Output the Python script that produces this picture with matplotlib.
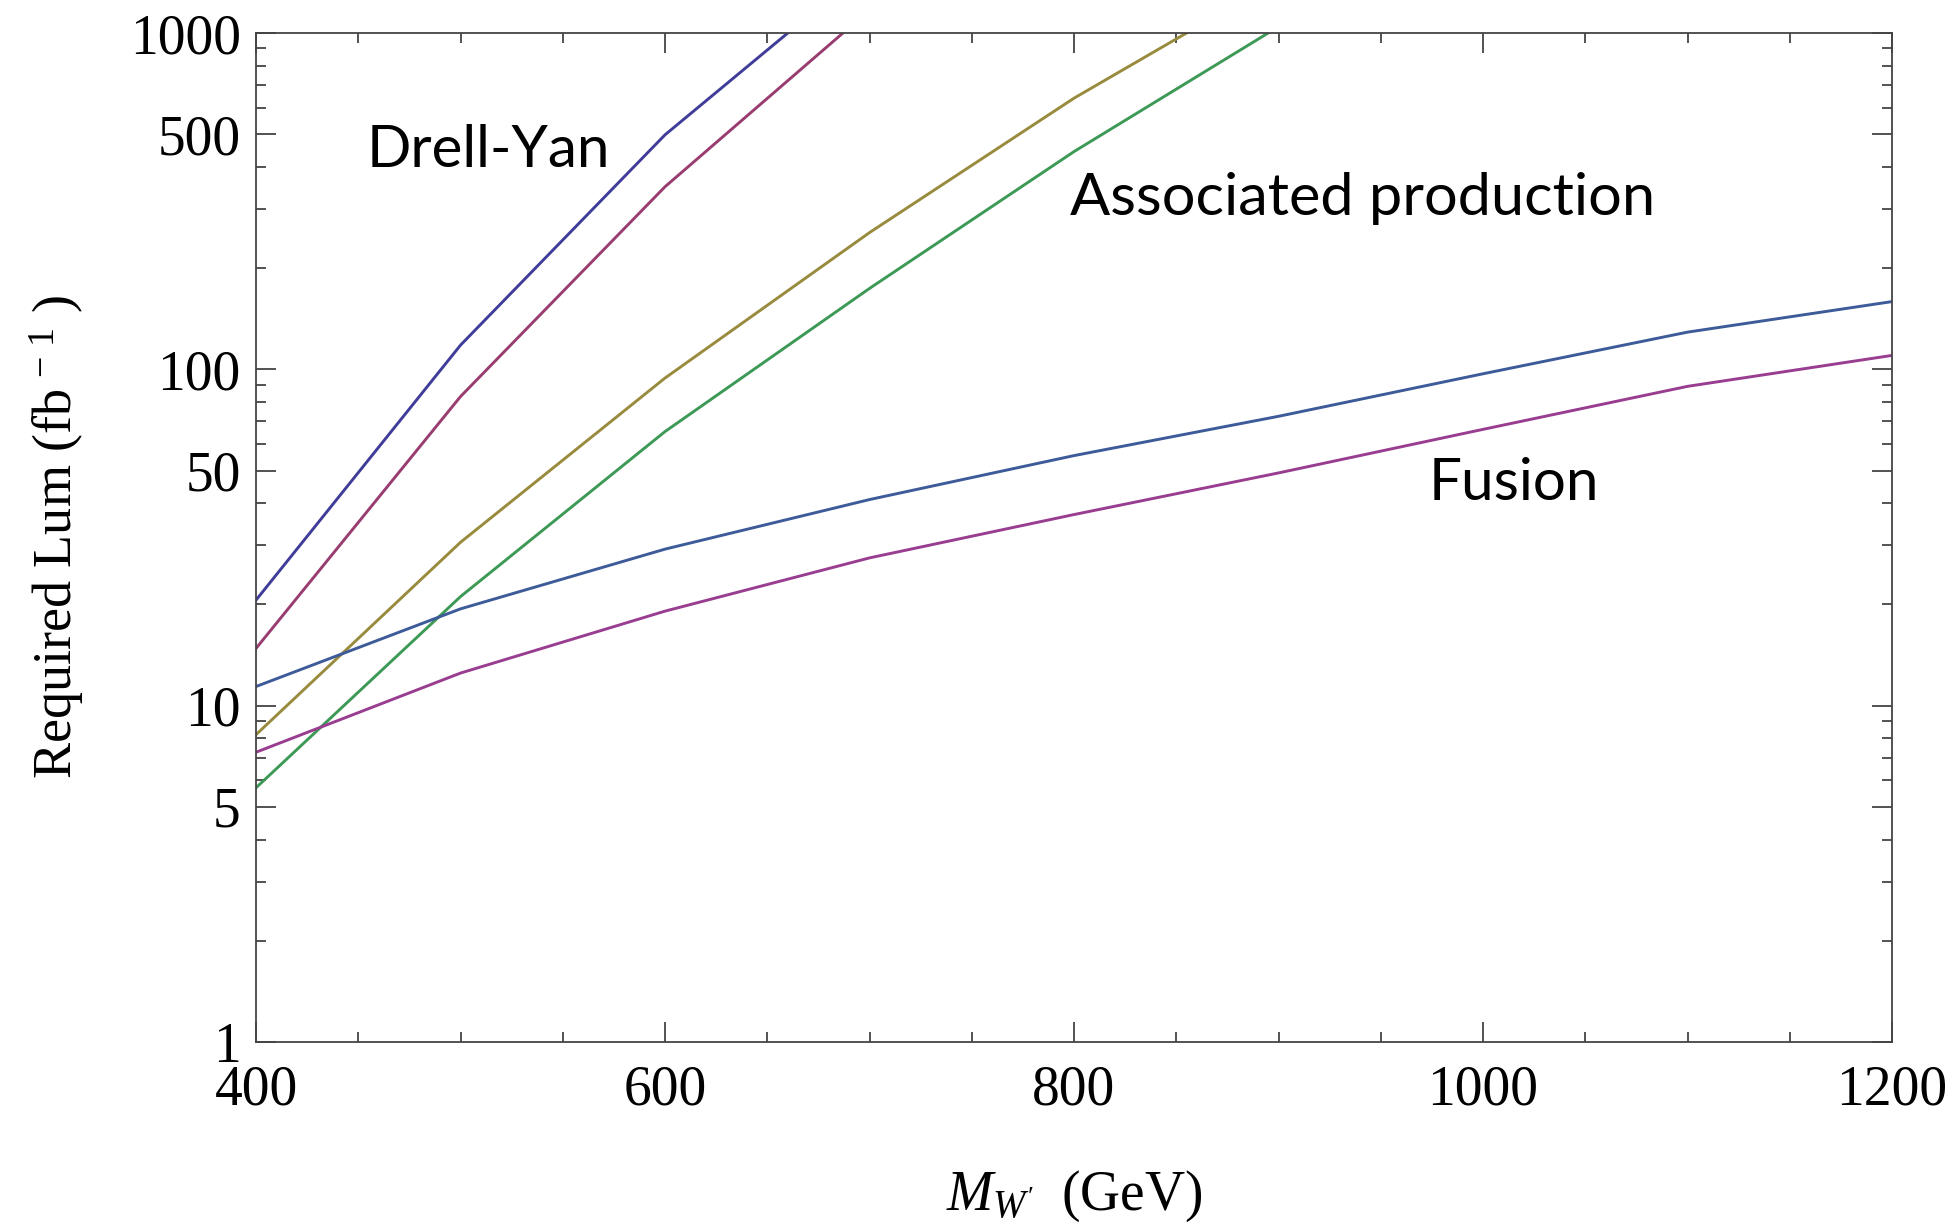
import numpy as np
import matplotlib
matplotlib.use("Agg")
import matplotlib.pyplot as plt
from matplotlib.ticker import FixedLocator, NullFormatter

# ---- data ----
mass_dy = [400, 500, 600, 700]
dy_a = [20.6, 118, 498, 1590]
dy_b = [14.8, 83, 349, 1170]

mass_ap = [400, 500, 600, 700, 800, 900]
ap_a = [8.2, 30.6, 94.2, 255, 640, 1440]
ap_b = [5.7, 21.1, 65.3, 174, 444, 1044]

mass_fu = [400, 500, 600, 700, 800, 900, 1000, 1100, 1200]
fu_a = [11.4, 19.4, 29.2, 41.0, 55.4, 72.5, 97.0, 129, 159]
fu_b = [7.27, 12.5, 19.1, 27.5, 37.0, 49.2, 66.3, 89.0, 110]

x_major = [400, 600, 800, 1000, 1200]
y_major = [1, 5, 10, 50, 100, 500, 1000]
y_major_labels = ["1", "5", "10", "50", "100", "500", "1000"]

labels = ["Drell-Yan", "Associated production", "Fusion"]

colors = [(0.2472, 0.24, 0.6), (0.6, 0.24, 0.4429), (0.6, 0.547, 0.24),
          (0.24, 0.6, 0.3369), (0.24, 0.3532, 0.6), (0.6, 0.24, 0.5633)]

plt.rcParams['mathtext.fontset'] = 'custom'
plt.rcParams['mathtext.rm'] = 'Liberation Serif'
plt.rcParams['mathtext.it'] = 'Liberation Serif:italic'
plt.rcParams['font.family'] = ['Liberation Serif', 'DejaVu Serif']

fig = plt.figure(figsize=(19.55, 12.23), dpi=100)
ax = fig.add_axes([256/1955, 1-1042/1223, (1892-256)/1955, (1042-33)/1223])

lw = 2.1
ax.plot(mass_dy, dy_a, color=colors[0], lw=lw)
ax.plot(mass_dy, dy_b, color=colors[1], lw=lw)
ax.plot(mass_ap, ap_a, color=colors[2], lw=lw)
ax.plot(mass_ap, ap_b, color=colors[3], lw=lw)
ax.plot(mass_fu, fu_a, color=colors[4], lw=lw)
ax.plot(mass_fu, fu_b, color=colors[5], lw=lw)

ax.set_yscale('log')
ax.set_xlim(400, 1200)
ax.set_ylim(1, 1000)

ax.xaxis.set_major_locator(FixedLocator(x_major))
ax.xaxis.set_minor_locator(FixedLocator([m for m in range(400, 1201, 50) if m not in x_major]))
ax.set_xticklabels([str(v) for v in x_major])
ax.yaxis.set_major_locator(FixedLocator(y_major))
ax.set_yticklabels(y_major_labels)
ymin = [2, 3, 4, 6, 7, 8, 9, 20, 30, 40, 60, 70, 80, 90, 200, 300, 400, 600, 700, 800, 900]
ax.yaxis.set_minor_locator(FixedLocator(ymin))
ax.yaxis.set_minor_formatter(NullFormatter())

ax.tick_params(which='both', direction='in', top=True, right=True, color='#444444', width=1.3)
ax.tick_params(which='major', length=14.5)
ax.tick_params(which='minor', length=7.5)
ax.tick_params(axis='x', which='major', labelsize=40, pad=16)
ax.tick_params(axis='y', which='major', labelsize=40, pad=11)
for s in ax.spines.values():
    s.set_color('#444444')
    s.set_linewidth(1.3)

sans = ['Lato', 'DejaVu Sans']
ax.text(454, 400, labels[0], fontsize=42, family=sans, ha='left', va='baseline')
ax.text(798, 288, labels[1], fontsize=42.8, family=sans, ha='left', va='baseline')
ax.text(973.6, 40.9, labels[2], fontsize=42, family=sans, ha='left', va='baseline')

fig.text(57/1955, 1-537/1223, r"Required Lum (fb$^{\,-\,1}$ )", fontsize=39,
         rotation=90, ha='center', va='center')
fig.text(1074/1955, 1-1210/1223, r"$M_{W'}\;$ (GeV)", fontsize=40,
         ha='center', va='baseline')

fig.savefig("out.png", dpi=100)
